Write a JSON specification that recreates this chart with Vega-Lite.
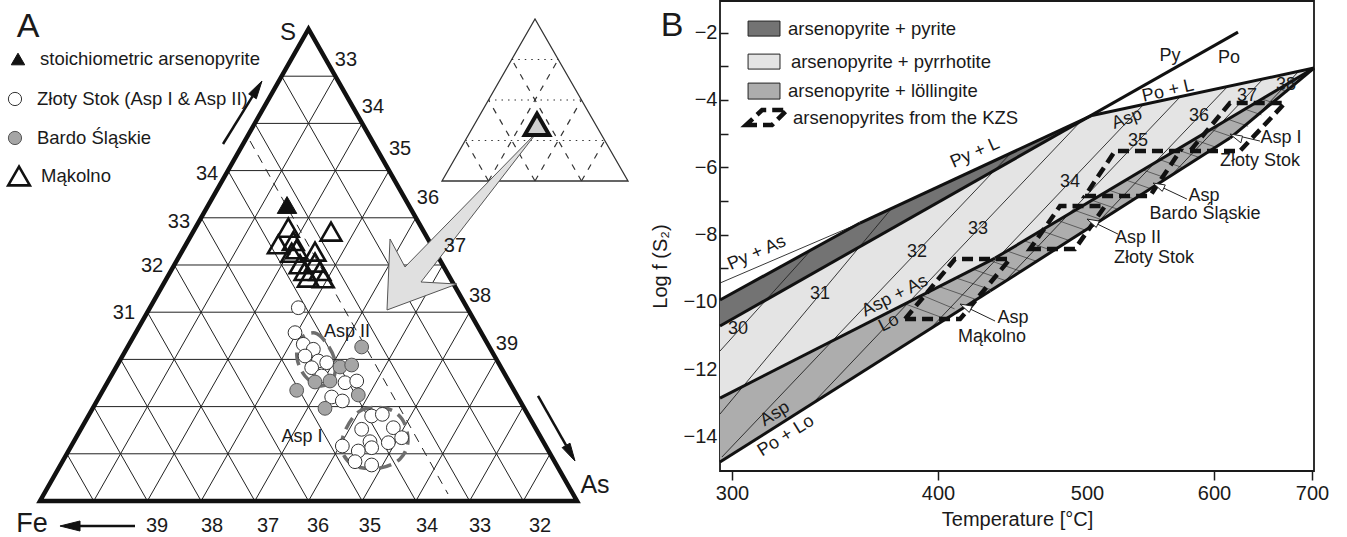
{
  "$schema": "https://vega.github.io/schema/vega-lite/v6.json",
  "padding": 0,
  "spacing": 0,
  "bounds": "flush",
  "background": "white",
  "config": {
    "view": {"stroke": null},
    "font": "Liberation Sans",
    "text": {"font": "Liberation Sans", "color": "#1a1a1a"}
  },
  "datasets": {
    "aseg": [
      {"k":"grid","x":0.5,"y":1,"x2":9.5,"y2":1},
      {"k":"grid","x":1,"y":2,"x2":9,"y2":2},
      {"k":"grid","x":1.5,"y":3,"x2":8.5,"y2":3},
      {"k":"grid","x":2,"y":4,"x2":8,"y2":4},
      {"k":"grid","x":2.5,"y":5,"x2":7.5,"y2":5},
      {"k":"grid","x":3,"y":6,"x2":7,"y2":6},
      {"k":"grid","x":3.5,"y":7,"x2":6.5,"y2":7},
      {"k":"grid","x":4,"y":8,"x2":6,"y2":8},
      {"k":"grid","x":4.5,"y":9,"x2":5.5,"y2":9},
      {"k":"grid","x":1,"y":0,"x2":5.5,"y2":9},
      {"k":"grid","x":2,"y":0,"x2":6,"y2":8},
      {"k":"grid","x":3,"y":0,"x2":6.5,"y2":7},
      {"k":"grid","x":4,"y":0,"x2":7,"y2":6},
      {"k":"grid","x":5,"y":0,"x2":7.5,"y2":5},
      {"k":"grid","x":6,"y":0,"x2":8,"y2":4},
      {"k":"grid","x":7,"y":0,"x2":8.5,"y2":3},
      {"k":"grid","x":8,"y":0,"x2":9,"y2":2},
      {"k":"grid","x":9,"y":0,"x2":9.5,"y2":1},
      {"k":"grid","x":1,"y":0,"x2":0.5,"y2":1},
      {"k":"grid","x":2,"y":0,"x2":1,"y2":2},
      {"k":"grid","x":3,"y":0,"x2":1.5,"y2":3},
      {"k":"grid","x":4,"y":0,"x2":2,"y2":4},
      {"k":"grid","x":5,"y":0,"x2":2.5,"y2":5},
      {"k":"grid","x":6,"y":0,"x2":3,"y2":6},
      {"k":"grid","x":7,"y":0,"x2":3.5,"y2":7},
      {"k":"grid","x":8,"y":0,"x2":4,"y2":8},
      {"k":"grid","x":9,"y":0,"x2":4.5,"y2":9},
      {"k":"dash","x":3.911,"y":7.627,"x2":7.598,"y2":0.148},
      {"k":"idot","x":8.785,"y":9.354,"x2":9.651,"y2":9.354},
      {"k":"idot","x":8.352,"y":8.496,"x2":10.084,"y2":8.496},
      {"k":"idot","x":7.919,"y":7.638,"x2":10.517,"y2":7.638},
      {"k":"idash","x":8.352,"y":6.78,"x2":9.651,"y2":9.354},
      {"k":"idash","x":9.218,"y":6.78,"x2":10.084,"y2":8.496},
      {"k":"idash","x":10.084,"y":6.78,"x2":10.517,"y2":7.638},
      {"k":"idash","x":8.352,"y":6.78,"x2":7.919,"y2":7.638},
      {"k":"idash","x":9.218,"y":6.78,"x2":8.352,"y2":8.496},
      {"k":"idash","x":10.084,"y":6.78,"x2":8.785,"y2":9.354},
      {"k":"arr","x":3.408,"y":7.564,"x2":3.957,"y2":8.574},
      {"k":"arr","x":9.274,"y":2.225,"x2":9.797,"y2":1.178},
      {"k":"arr","x":1.769,"y":-0.53,"x2":0.745,"y2":-0.53}
    ],
    "apoly": [
      {"id":"tri","o":1,"x":0,"y":0},
      {"id":"tri","o":2,"x":10,"y":0},
      {"id":"tri","o":3,"x":5,"y":10},
      {"id":"inset","o":1,"x":7.486,"y":6.78},
      {"id":"inset","o":2,"x":10.95,"y":6.78},
      {"id":"inset","o":3,"x":9.218,"y":10.212},
      {"id":"big","o":1,"x":6.462,"y":4.047},
      {"id":"big","o":2,"x":7.765,"y":4.597},
      {"id":"big","o":3,"x":7.095,"y":4.64},
      {"id":"big","o":4,"x":9.274,"y":7.839},
      {"id":"big","o":5,"x":6.797,"y":4.958},
      {"id":"big","o":6,"x":6.518,"y":5.551},
      {"id":"h1","o":1,"x":4.134,"y":8.898},
      {"id":"h1","o":2,"x":4.028,"y":8.523},
      {"id":"h1","o":3,"x":3.886,"y":8.625},
      {"id":"h2","o":1,"x":9.963,"y":0.847},
      {"id":"h2","o":2,"x":9.87,"y":1.225},
      {"id":"h2","o":3,"x":9.724,"y":1.131},
      {"id":"h3","o":1,"x":0.372,"y":-0.53},
      {"id":"h3","o":2,"x":0.745,"y":-0.424},
      {"id":"h3","o":3,"x":0.745,"y":-0.636}
    ],
    "aell": [
      {"id":"e2","o":1,"x":4.842,"y":3.432},
      {"id":"e2","o":2,"x":5.121,"y":3.559},
      {"id":"e2","o":3,"x":5.345,"y":3.326},
      {"id":"e2","o":4,"x":5.493,"y":2.966},
      {"id":"e2","o":5,"x":5.456,"y":2.585},
      {"id":"e2","o":6,"x":5.214,"y":2.436},
      {"id":"e2","o":7,"x":4.935,"y":2.648},
      {"id":"e2","o":8,"x":4.786,"y":3.03},
      {"id":"e1","o":1,"x":5.68,"y":1.483},
      {"id":"e1","o":2,"x":5.959,"y":1.907},
      {"id":"e1","o":3,"x":6.425,"y":1.97},
      {"id":"e1","o":4,"x":6.741,"y":1.737},
      {"id":"e1","o":5,"x":6.853,"y":1.271},
      {"id":"e1","o":6,"x":6.704,"y":0.89},
      {"id":"e1","o":7,"x":6.331,"y":0.699},
      {"id":"e1","o":8,"x":5.866,"y":0.742},
      {"id":"e1","o":9,"x":5.624,"y":1.059}
    ],
    "apts": [
      {"g":"zs","x":4.81,"y":4.095},
      {"g":"zs","x":4.749,"y":3.566},
      {"g":"zs","x":4.903,"y":3.32},
      {"g":"zs","x":5.09,"y":3.214},
      {"g":"zs","x":4.935,"y":3.072},
      {"g":"zs","x":5.183,"y":2.966},
      {"g":"zs","x":5.339,"y":2.93},
      {"g":"zs","x":5.059,"y":2.824},
      {"g":"zs","x":5.245,"y":2.648},
      {"g":"zs","x":5.68,"y":2.506},
      {"g":"zs","x":5.898,"y":2.542},
      {"g":"zs","x":5.432,"y":2.203},
      {"g":"zs","x":5.63,"y":2.119},
      {"g":"zs","x":6.176,"y":1.801},
      {"g":"zs","x":6.375,"y":1.836},
      {"g":"zs","x":5.99,"y":1.519},
      {"g":"zs","x":6.58,"y":1.553},
      {"g":"zs","x":6.735,"y":1.341},
      {"g":"zs","x":6.145,"y":1.256},
      {"g":"zs","x":5.63,"y":1.165},
      {"g":"zs","x":6.176,"y":1.129},
      {"g":"zs","x":5.927,"y":1.059},
      {"g":"zs","x":5.866,"y":0.833},
      {"g":"zs","x":6.176,"y":0.763},
      {"g":"zs","x":6.486,"y":1.235},
      {"g":"bardo","x":5.99,"y":3.263},
      {"g":"bardo","x":5.587,"y":2.839},
      {"g":"bardo","x":5.804,"y":2.881},
      {"g":"bardo","x":5.121,"y":2.521},
      {"g":"bardo","x":5.4,"y":2.542},
      {"g":"bardo","x":4.78,"y":2.345},
      {"g":"bardo","x":5.927,"y":2.246},
      {"g":"bardo","x":5.307,"y":1.963},
      {"g":"mak","x":4.624,"y":5.79},
      {"g":"mak","x":5.419,"y":5.706},
      {"g":"mak","x":4.438,"y":5.439},
      {"g":"mak","x":4.717,"y":5.508},
      {"g":"mak","x":4.78,"y":5.333},
      {"g":"mak","x":5.121,"y":5.282},
      {"g":"mak","x":4.842,"y":5.015},
      {"g":"mak","x":5.121,"y":5.049},
      {"g":"mak","x":4.935,"y":4.873},
      {"g":"mak","x":5.214,"y":4.873},
      {"g":"mak","x":4.996,"y":4.731},
      {"g":"mak","x":5.276,"y":4.718},
      {"g":"mak","x":4.687,"y":5.26},
      {"g":"stoich","x":4.6,"y":6.271}
    ],
    "acenter": [{"x":9.255,"y":7.981}],
    "aleg": [
      {"g":"stoich","x":-0.41,"y":9.364,"t":"stoichiometric arsenopyrite"},
      {"g":"zs","x":-0.466,"y":8.517,"t":"Złoty Stok (Asp I & Asp II)"},
      {"g":"bardo","x":-0.466,"y":7.691,"t":"Bardo Śląskie"},
      {"g":"mak","x":-0.391,"y":6.886,"t":"Mąkolno"}
    ],
    "atext": [
      {"t":"A","g":"A","x":-0.223,"y":10.042},
      {"t":"B","g":"A","x":11.769,"y":10.064},
      {"t":"S","g":"S","x":4.618,"y":9.915},
      {"t":"As","g":"As","x":10.335,"y":0.339},
      {"t":"Fe","g":"Fe","x":-0.149,"y":-0.487},
      {"t":"34","g":"tick","x":3.11,"y":6.928},
      {"t":"33","g":"tick","x":2.588,"y":5.911},
      {"t":"32","g":"tick","x":2.086,"y":4.979},
      {"t":"31","g":"tick","x":1.564,"y":3.983},
      {"t":"33","g":"tick","x":5.698,"y":9.343},
      {"t":"34","g":"tick","x":6.201,"y":8.347},
      {"t":"35","g":"tick","x":6.704,"y":7.458},
      {"t":"36","g":"tick","x":7.225,"y":6.419},
      {"t":"37","g":"tick","x":7.728,"y":5.403},
      {"t":"38","g":"tick","x":8.194,"y":4.343},
      {"t":"39","g":"tick","x":8.696,"y":3.326},
      {"t":"39","g":"tick","x":2.179,"y":-0.53},
      {"t":"38","g":"tick","x":3.203,"y":-0.53},
      {"t":"37","g":"tick","x":4.246,"y":-0.53},
      {"t":"36","g":"tick","x":5.177,"y":-0.53},
      {"t":"35","g":"tick","x":6.145,"y":-0.53},
      {"t":"34","g":"tick","x":7.207,"y":-0.53},
      {"t":"33","g":"tick","x":8.194,"y":-0.53},
      {"t":"32","g":"tick","x":9.311,"y":-0.53},
      {"t":"Asp II","g":"ann","x":5.717,"y":3.581},
      {"t":"Asp I","g":"ann","x":4.879,"y":1.356}
    ],
    "bfield": [
      {"kind":"py","T":295,"f":-10.715,"f2":-9.942},
      {"kind":"py","T":362.1,"f":-8.353,"f2":-7.655},
      {"kind":"py","T":503.9,"f":-4.46,"f2":-4.46},
      {"kind":"po","T":295,"f":-12.853,"f2":-10.715},
      {"kind":"po","T":438.3,"f":-8.695,"f2":-6.078},
      {"kind":"po","T":503.9,"f":-6.978,"f2":-4.46},
      {"kind":"po","T":702,"f":-3.052,"f2":-3.052},
      {"kind":"lo","T":295,"f":-14.754,"f2":-12.853},
      {"kind":"lo","T":434.9,"f":-9.675,"f2":-8.769},
      {"kind":"lo","T":438.3,"f":-9.568,"f2":-8.695},
      {"kind":"lo","T":616.3,"f":-5.131,"f2":-4.537},
      {"kind":"lo","T":702,"f":-3.052,"f2":-3.052}
    ],
    "bseg": [
      {"k":"thick","T":295,"f":-10.715,"T2":624.5,"f2":-1.983},
      {"k":"thick","T":295,"f":-9.942,"T2":362.1,"f2":-7.655},
      {"k":"thick","T":362.1,"f":-7.655,"T2":503.9,"f2":-4.46},
      {"k":"thick","T":503.9,"f":-4.46,"T2":702,"f2":-3.052},
      {"k":"thick","T":295,"f":-12.853,"T2":438.3,"f2":-8.695},
      {"k":"thick","T":438.3,"f":-8.695,"T2":702,"f2":-3.052},
      {"k":"thick","T":295,"f":-14.754,"T2":434.9,"f2":-9.675},
      {"k":"thick","T":434.9,"f":-9.675,"T2":616.3,"f2":-5.131},
      {"k":"thick","T":616.3,"f":-5.131,"T2":702,"f2":-3.052},
      {"k":"thin","T":295,"f":-9.437,"T2":362.1,"f2":-7.655},
      {"k":"iso","T":295,"f":-11.457,"T2":338.8,"f2":-8.428},
      {"k":"iso","T":295,"f":-13.328,"T2":377.2,"f2":-7.24},
      {"k":"iso","T":295.8,"f":-14.605,"T2":449.0,"f2":-5.576},
      {"k":"iso","T":338.4,"f":-13.061,"T2":496.0,"f2":-4.626},
      {"k":"iso","T":396.1,"f":-10.804,"T2":544.1,"f2":-4.151},
      {"k":"iso","T":445.0,"f":-9.378,"T2":573.2,"f2":-3.913},
      {"k":"iso","T":508.5,"f":-7.635,"T2":613.3,"f2":-3.616},
      {"k":"iso","T":566.5,"f":-6.236,"T2":650.0,"f2":-3.379},
      {"k":"iso","T":643.5,"f":-4.475,"T2":686.7,"f2":-3.141},
      {"k":"hatch","T":383.98,"f":-10.055,"T2":403.9,"f2":-10.483},
      {"k":"hatch","T":392.2,"f":-9.8,"T2":411.1,"f2":-10.204},
      {"k":"hatch","T":400.7,"f":-9.541,"T2":425.4,"f2":-9.925},
      {"k":"hatch","T":412.1,"f":-9.286,"T2":436.2,"f2":-9.645},
      {"k":"hatch","T":423.5,"f":-9.028,"T2":445.4,"f2":-9.366},
      {"k":"hatch","T":434.9,"f":-8.769,"T2":455.4,"f2":-9.087},
      {"k":"hatch","T":446.3,"f":-8.484,"T2":466.0,"f2":-8.79},
      {"k":"hatch","T":457.7,"f":-8.181,"T2":477.0,"f2":-8.478},
      {"k":"hatch","T":469.1,"f":-7.881,"T2":487.9,"f2":-8.172},
      {"k":"hatch","T":480.6,"f":-7.581,"T2":498.7,"f2":-7.863},
      {"k":"hatch","T":491.9,"f":-7.281,"T2":511.3,"f2":-7.555},
      {"k":"hatch","T":503.9,"f":-6.978,"T2":524.3,"f2":-7.246},
      {"k":"hatch","T":517.3,"f":-6.678,"T2":537.0,"f2":-6.94},
      {"k":"hatch","T":530.7,"f":-6.378,"T2":549.8,"f2":-6.631},
      {"k":"hatch","T":544.1,"f":-6.078,"T2":562.6,"f2":-6.322},
      {"k":"hatch","T":557.5,"f":-5.775,"T2":575.5,"f2":-6.013},
      {"k":"hatch","T":570.9,"f":-5.476,"T2":588.4,"f2":-5.707},
      {"k":"hatch","T":584.3,"f":-5.176,"T2":601.4,"f2":-5.398},
      {"k":"hatch","T":597.6,"f":-4.876,"T2":618.1,"f2":-5.089},
      {"k":"hatch","T":614.3,"f":-4.573,"T2":634.8,"f2":-4.781},
      {"k":"hatch","T":631.6,"f":-4.273,"T2":648.4,"f2":-4.442},
      {"k":"hatch","T":649.0,"f":-3.97,"T2":661.6,"f2":-4.098},
      {"k":"hatch","T":666.3,"f":-3.67,"T2":674.9,"f2":-3.756},
      {"k":"arr","T":438.3,"f":-10.566,"T2":422.0,"f2":-10.216},
      {"k":"arr","T":524.4,"f":-7.982,"T2":508.5,"f2":-7.691},
      {"k":"arr","T":578.7,"f":-6.943,"T2":560.5,"f2":-6.619},
      {"k":"arr","T":646.9,"f":-5.22,"T2":628.3,"f2":-5.092}
    ],
    "bpoly": [
      {"id":"mak","o":1,"T":384.0,"f":-10.507},
      {"id":"mak","o":2,"T":414.8,"f":-10.507},
      {"id":"mak","o":3,"T":448.3,"f":-8.725},
      {"id":"mak","o":4,"T":411.4,"f":-8.725},
      {"id":"a2","o":1,"T":461.7,"f":-8.428},
      {"id":"a2","o":2,"T":491.9,"f":-8.428},
      {"id":"a2","o":3,"T":514.2,"f":-7.151},
      {"id":"a2","o":4,"T":481.9,"f":-7.151},
      {"id":"bardo","o":1,"T":498.7,"f":-6.854},
      {"id":"bardo","o":2,"T":549.6,"f":-6.854},
      {"id":"bardo","o":3,"T":573.2,"f":-5.517},
      {"id":"bardo","o":4,"T":522.0,"f":-5.517},
      {"id":"a1","o":1,"T":581.1,"f":-5.517},
      {"id":"a1","o":2,"T":626.5,"f":-5.517},
      {"id":"a1","o":3,"T":672.4,"f":-4.091},
      {"id":"a1","o":4,"T":616.3,"f":-4.091},
      {"id":"legk","o":1,"T":306.8,"f":-4.745},
      {"id":"legk","o":2,"T":319.4,"f":-4.745},
      {"id":"legk","o":3,"T":326.7,"f":-4.299},
      {"id":"legk","o":4,"T":314.6,"f":-4.299},
      {"id":"hb1","o":1,"T":414.77,"f":-10.061},
      {"id":"hb1","o":2,"T":423.02,"f":-10.121},
      {"id":"hb1","o":3,"T":421.0,"f":-10.311},
      {"id":"hb2","o":1,"T":500.0,"f":-7.537},
      {"id":"hb2","o":2,"T":509.7,"f":-7.596},
      {"id":"hb2","o":3,"T":507.3,"f":-7.786},
      {"id":"hb3","o":1,"T":551.97,"f":-6.467},
      {"id":"hb3","o":2,"T":561.65,"f":-6.524},
      {"id":"hb3","o":3,"T":559.3,"f":-6.714},
      {"id":"hb4","o":1,"T":616.3,"f":-5.012},
      {"id":"hb4","o":2,"T":629.1,"f":-5.071},
      {"id":"hb4","o":3,"T":627.4,"f":-5.273}
    ],
    "btext": [
      {"t":"Py + As","g":"r24","T":312.1,"f":-8.546},
      {"t":"Py + L","g":"r24","T":424.8,"f":-5.576},
      {"t":"Po + L","g":"r13","T":563.8,"f":-3.735},
      {"t":"Asp","g":"r20","T":531.5,"f":-4.565},
      {"t":"Asp + As","g":"r27","T":379.1,"f":-9.824},
      {"t":"Lo","g":"r27","T":376.2,"f":-10.625},
      {"t":"Asp","g":"r32","T":320.9,"f":-13.327},
      {"t":"Po + Lo","g":"r32","T":326.2,"f":-13.98},
      {"t":"Py","g":"r0","T":565.4,"f":-2.696},
      {"t":"Po","g":"r0","T":615.3,"f":-2.755},
      {"t":"30","g":"r0","T":302.9,"f":-10.8},
      {"t":"31","g":"r0","T":342.7,"f":-9.76},
      {"t":"32","g":"r0","T":389.8,"f":-8.517},
      {"t":"33","g":"r0","T":426.8,"f":-7.834},
      {"t":"34","g":"r0","T":488.6,"f":-6.438},
      {"t":"35","g":"r0","T":540.2,"f":-5.22},
      {"t":"36","g":"r0","T":588.2,"f":-4.477},
      {"t":"37","g":"r0","T":633.7,"f":-3.883},
      {"t":"38","g":"r0","T":673.5,"f":-3.556},
      {"t":"Asp","g":"r0","T":450.3,"f":-10.477},
      {"t":"Mąkolno","g":"r0","T":436.2,"f":-11.041},
      {"t":"Asp II","g":"r0","T":540.2,"f":-8.101},
      {"t":"Złoty Stok","g":"r0","T":552.8,"f":-8.695},
      {"t":"Asp","g":"r0","T":592.1,"f":-6.854},
      {"t":"Bardo Śląskie","g":"r0","T":592.9,"f":-7.388},
      {"t":"Asp I","g":"r0","T":668.4,"f":-5.131},
      {"t":"Złoty Stok","g":"r0","T":646.9,"f":-5.814}
    ],
    "bleg": [
      {"kind":"py","T":307.8,"T2":323.3,"f":-1.656,"f2":-2.102},
      {"kind":"po","T":307.8,"T2":323.3,"f":-2.637,"f2":-3.082},
      {"kind":"lo","T":307.8,"T2":323.3,"f":-3.498,"f2":-3.973}
    ],
    "blegt": [
      {"t":"arsenopyrite + pyrite","T":327.2,"f":-1.879},
      {"t":"arsenopyrite + pyrrhotite","T":328.6,"f":-2.859},
      {"t":"arsenopyrite + löllingite","T":327.2,"f":-3.735},
      {"t":"arsenopyrites from the KZS","T":329.6,"f":-4.537}
    ]
  },
  "hconcat": [
    {
      "width": 720,
      "height": 537,
      "encoding": {
        "x": {"field": "x", "type": "quantitative", "scale": {"domain": [-0.745, 12.663], "nice": false, "zero": false}, "axis": null},
        "y": {"field": "y", "type": "quantitative", "scale": {"domain": [-0.784, 10.593], "nice": false, "zero": false}, "axis": null}
      },
      "layer": [
        {"data": {"name": "aseg"}, "transform": [{"filter": "datum.k === 'grid'"}],
         "mark": {"type": "rule", "stroke": "#222222", "strokeWidth": 1},
         "encoding": {"x2": {"field": "x2"}, "y2": {"field": "y2"}}},
        {"data": {"name": "aseg"}, "transform": [{"filter": "datum.k === 'dash'"}],
         "mark": {"type": "rule", "stroke": "#222222", "strokeWidth": 1, "strokeDash": [9, 7]},
         "encoding": {"x2": {"field": "x2"}, "y2": {"field": "y2"}}},
        {"data": {"name": "aseg"}, "transform": [{"filter": "datum.k === 'idot'"}],
         "mark": {"type": "rule", "stroke": "#333333", "strokeWidth": 1.2, "strokeDash": [1.5, 5]},
         "encoding": {"x2": {"field": "x2"}, "y2": {"field": "y2"}}},
        {"data": {"name": "aseg"}, "transform": [{"filter": "datum.k === 'idash'"}],
         "mark": {"type": "rule", "stroke": "#333333", "strokeWidth": 1.2, "strokeDash": [6, 7]},
         "encoding": {"x2": {"field": "x2"}, "y2": {"field": "y2"}}},
        {"data": {"name": "aseg"}, "transform": [{"filter": "datum.k === 'arr'"}],
         "mark": {"type": "rule", "stroke": "#111111", "strokeWidth": 2.5},
         "encoding": {"x2": {"field": "x2"}, "y2": {"field": "y2"}}},
        {"data": {"name": "apoly"}, "transform": [{"filter": "datum.id === 'tri'"}],
         "mark": {"type": "line", "interpolate": "linear-closed", "stroke": "#111111", "strokeWidth": 4.5, "strokeJoin": "miter"},
         "encoding": {"order": {"field": "o", "type": "quantitative"}, "detail": {"field": "id"}}},
        {"data": {"name": "apoly"}, "transform": [{"filter": "datum.id === 'inset'"}],
         "mark": {"type": "line", "interpolate": "linear-closed", "stroke": "#333333", "strokeWidth": 1.3},
         "encoding": {"order": {"field": "o", "type": "quantitative"}, "detail": {"field": "id"}}},
        {"data": {"name": "apoly"}, "transform": [{"filter": "datum.id === 'big'"}],
         "mark": {"type": "line", "interpolate": "linear-closed", "fill": "#e0e0e0", "stroke": "#555555", "strokeWidth": 1},
         "encoding": {"order": {"field": "o", "type": "quantitative"}, "detail": {"field": "id"}}},
        {"data": {"name": "apoly"}, "transform": [{"filter": "datum.id === 'h1' || datum.id === 'h2' || datum.id === 'h3'"}],
         "mark": {"type": "line", "interpolate": "linear-closed", "fill": "#111111", "stroke": "#111111", "strokeWidth": 1},
         "encoding": {"order": {"field": "o", "type": "quantitative"}, "detail": {"field": "id"}}},
        {"data": {"name": "aell"},
         "mark": {"type": "line", "interpolate": "cardinal-closed", "stroke": "#6e6e6e", "strokeWidth": 3.5, "strokeDash": [13, 7]},
         "encoding": {"order": {"field": "o", "type": "quantitative"}, "detail": {"field": "id"}}},
        {"data": {"name": "apts"}, "transform": [{"filter": "datum.g === 'zs'"}],
         "mark": {"type": "point", "shape": "circle", "size": 190, "filled": true, "fill": "#ffffff", "stroke": "#333333", "strokeWidth": 1, "opacity": 1}},
        {"data": {"name": "apts"}, "transform": [{"filter": "datum.g === 'bardo'"}],
         "mark": {"type": "point", "shape": "circle", "size": 190, "filled": true, "fill": "#a5a5a5", "stroke": "#555555", "strokeWidth": 1, "opacity": 1}},
        {"data": {"name": "apts"}, "transform": [{"filter": "datum.g === 'mak'"}],
         "mark": {"type": "point", "shape": "triangle-up", "size": 430, "filled": false, "stroke": "#111111", "strokeWidth": 2.6, "opacity": 1}},
        {"data": {"name": "apts"}, "transform": [{"filter": "datum.g === 'stoich'"}],
         "mark": {"type": "point", "shape": "triangle-up", "size": 380, "filled": true, "fill": "#111111", "stroke": "#111111", "strokeWidth": 1, "opacity": 1}},
        {"data": {"name": "acenter"},
         "mark": {"type": "point", "shape": "triangle-up", "size": 600, "filled": true, "fill": "#cfcfcf", "stroke": "#111111", "strokeWidth": 4, "opacity": 1}},
        {"data": {"name": "aleg"}, "transform": [{"filter": "datum.g === 'stoich'"}],
         "mark": {"type": "point", "shape": "triangle-up", "size": 180, "filled": true, "fill": "#111111", "stroke": "#111111", "strokeWidth": 1, "opacity": 1}},
        {"data": {"name": "aleg"}, "transform": [{"filter": "datum.g === 'zs'"}],
         "mark": {"type": "point", "shape": "circle", "size": 175, "filled": true, "fill": "#ffffff", "stroke": "#333333", "strokeWidth": 1, "opacity": 1}},
        {"data": {"name": "aleg"}, "transform": [{"filter": "datum.g === 'bardo'"}],
         "mark": {"type": "point", "shape": "circle", "size": 175, "filled": true, "fill": "#a5a5a5", "stroke": "#555555", "strokeWidth": 1, "opacity": 1}},
        {"data": {"name": "aleg"}, "transform": [{"filter": "datum.g === 'mak'"}],
         "mark": {"type": "point", "shape": "triangle-up", "size": 470, "filled": false, "stroke": "#111111", "strokeWidth": 2.6, "opacity": 1}},
        {"data": {"name": "aleg"},
         "mark": {"type": "text", "align": "left", "baseline": "middle", "dx": 22, "fontSize": 18.5},
         "encoding": {"text": {"field": "t"}}},
        {"data": {"name": "atext"}, "transform": [{"filter": "datum.g === 'tick'"}],
         "mark": {"type": "text", "align": "center", "baseline": "middle", "fontSize": 20},
         "encoding": {"text": {"field": "t"}}},
        {"data": {"name": "atext"}, "transform": [{"filter": "datum.g === 'ann'"}],
         "mark": {"type": "text", "align": "center", "baseline": "middle", "fontSize": 18},
         "encoding": {"text": {"field": "t"}}},
        {"data": {"name": "atext"}, "transform": [{"filter": "datum.g === 'S'"}],
         "mark": {"type": "text", "align": "center", "baseline": "middle", "fontSize": 24},
         "encoding": {"text": {"field": "t"}}},
        {"data": {"name": "atext"}, "transform": [{"filter": "datum.g === 'As'"}],
         "mark": {"type": "text", "align": "center", "baseline": "middle", "fontSize": 25},
         "encoding": {"text": {"field": "t"}}},
        {"data": {"name": "atext"}, "transform": [{"filter": "datum.g === 'Fe'"}],
         "mark": {"type": "text", "align": "center", "baseline": "middle", "fontSize": 27},
         "encoding": {"text": {"field": "t"}}},
        {"data": {"name": "atext"}, "transform": [{"filter": "datum.g === 'A'"}],
         "mark": {"type": "text", "align": "center", "baseline": "middle", "fontSize": 34},
         "encoding": {"text": {"field": "t"}}}
      ]
    },
    {
      "width": 594,
      "height": 470,
      "view": {"stroke": "#1a1a1a", "strokeWidth": 1.8},
      "encoding": {
        "x": {"field": "T", "type": "quantitative",
              "scale": {"domain": [295, 300, 400, 500, 600, 700, 702], "range": [0, 12, 218, 367, 494, 592, 594], "nice": false, "zero": false},
              "axis": {"values": [300, 400, 500, 600, 700], "format": "d", "grid": false, "domain": false,
                       "tickSize": 9, "tickWidth": 1.5, "tickColor": "#1a1a1a",
                       "tickOpacity": {"condition": {"test": "datum.value === 500", "value": 0}, "value": 1},
                       "labelFontSize": 20, "labelColor": "#1a1a1a", "labelPadding": 3, "labelFlush": false,
                       "title": "Temperature [°C]", "titleFontSize": 20, "titleFontWeight": "normal", "titleColor": "#1a1a1a", "titlePadding": 6}},
        "y": {"field": "f", "type": "quantitative",
              "scale": {"domain": [-15.02, -1.06], "nice": false, "zero": false},
              "axis": {"values": [-14, -13, -12, -11, -10, -9, -8, -7, -6, -5, -4, -3, -2],
                       "labelExpr": "datum.value % 2 == 0 ? datum.label : ''",
                       "grid": false, "domain": false,
                       "tickSize": -8, "tickWidth": 1.5, "tickColor": "#1a1a1a",
                       "labelFontSize": 20, "labelColor": "#1a1a1a", "labelPadding": 11,
                       "title": "Log f (S₂)", "titleFontSize": 20, "titleFontWeight": "normal", "titleColor": "#1a1a1a",
                       "titleX": -50, "titleY": 265}}
      },
      "layer": [
        {"data": {"name": "bfield"},
         "mark": {"type": "area", "opacity": 1},
         "encoding": {"y2": {"field": "f2"},
                      "color": {"field": "kind", "type": "nominal", "scale": {"domain": ["py", "po", "lo"], "range": ["#737373", "#e4e4e4", "#adadad"]}, "legend": null}}},
        {"data": {"name": "bseg"}, "transform": [{"filter": "datum.k === 'hatch'"}],
         "mark": {"type": "rule", "stroke": "#3a3a3a", "strokeWidth": 0.7},
         "encoding": {"x2": {"field": "T2"}, "y2": {"field": "f2"}}},
        {"data": {"name": "bseg"}, "transform": [{"filter": "datum.k === 'iso' || datum.k === 'thin'"}],
         "mark": {"type": "rule", "stroke": "#222222", "strokeWidth": 0.9},
         "encoding": {"x2": {"field": "T2"}, "y2": {"field": "f2"}}},
        {"data": {"name": "bseg"}, "transform": [{"filter": "datum.k === 'thick'"}],
         "mark": {"type": "rule", "stroke": "#111111", "strokeWidth": 3},
         "encoding": {"x2": {"field": "T2"}, "y2": {"field": "f2"}}},
        {"data": {"name": "bpoly"}, "transform": [{"filter": {"field": "id", "oneOf": ["mak", "a2", "bardo", "a1", "legk"]}}],
         "mark": {"type": "line", "interpolate": "linear-closed", "stroke": "#111111", "strokeWidth": 4.5, "strokeDash": [11, 6]},
         "encoding": {"order": {"field": "o", "type": "quantitative"}, "detail": {"field": "id"}}},
        {"data": {"name": "bseg"}, "transform": [{"filter": "datum.k === 'arr'"}],
         "mark": {"type": "rule", "stroke": "#222222", "strokeWidth": 1},
         "encoding": {"x2": {"field": "T2"}, "y2": {"field": "f2"}}},
        {"data": {"name": "bpoly"}, "transform": [{"filter": {"field": "id", "oneOf": ["hb1", "hb2", "hb3", "hb4"]}}],
         "mark": {"type": "line", "interpolate": "linear-closed", "fill": "#ffffff", "stroke": "#222222", "strokeWidth": 1},
         "encoding": {"order": {"field": "o", "type": "quantitative"}, "detail": {"field": "id"}}},
        {"data": {"name": "btext"}, "transform": [{"filter": "datum.g === 'r0'"}],
         "mark": {"type": "text", "align": "center", "baseline": "middle", "fontSize": 18},
         "encoding": {"text": {"field": "t"}}},
        {"data": {"name": "btext"}, "transform": [{"filter": "datum.g === 'r24'"}],
         "mark": {"type": "text", "align": "center", "baseline": "middle", "fontSize": 18, "angle": -24},
         "encoding": {"text": {"field": "t"}}},
        {"data": {"name": "btext"}, "transform": [{"filter": "datum.g === 'r13'"}],
         "mark": {"type": "text", "align": "center", "baseline": "middle", "fontSize": 18, "angle": -13},
         "encoding": {"text": {"field": "t"}}},
        {"data": {"name": "btext"}, "transform": [{"filter": "datum.g === 'r20'"}],
         "mark": {"type": "text", "align": "center", "baseline": "middle", "fontSize": 18, "angle": -20},
         "encoding": {"text": {"field": "t"}}},
        {"data": {"name": "btext"}, "transform": [{"filter": "datum.g === 'r27'"}],
         "mark": {"type": "text", "align": "center", "baseline": "middle", "fontSize": 18, "angle": -27},
         "encoding": {"text": {"field": "t"}}},
        {"data": {"name": "btext"}, "transform": [{"filter": "datum.g === 'r32'"}],
         "mark": {"type": "text", "align": "center", "baseline": "middle", "fontSize": 18, "angle": -32},
         "encoding": {"text": {"field": "t"}}},
        {"data": {"name": "bleg"},
         "mark": {"type": "rect", "stroke": "#222222", "strokeWidth": 1},
         "encoding": {"x2": {"field": "T2"}, "y2": {"field": "f2"},
                      "color": {"field": "kind", "type": "nominal", "scale": {"domain": ["py", "po", "lo"], "range": ["#737373", "#e4e4e4", "#adadad"]}, "legend": null}}},
        {"data": {"name": "blegt"},
         "mark": {"type": "text", "align": "left", "baseline": "middle", "fontSize": 18.5},
         "encoding": {"text": {"field": "t"}}}
      ]
    }
  ]
}
